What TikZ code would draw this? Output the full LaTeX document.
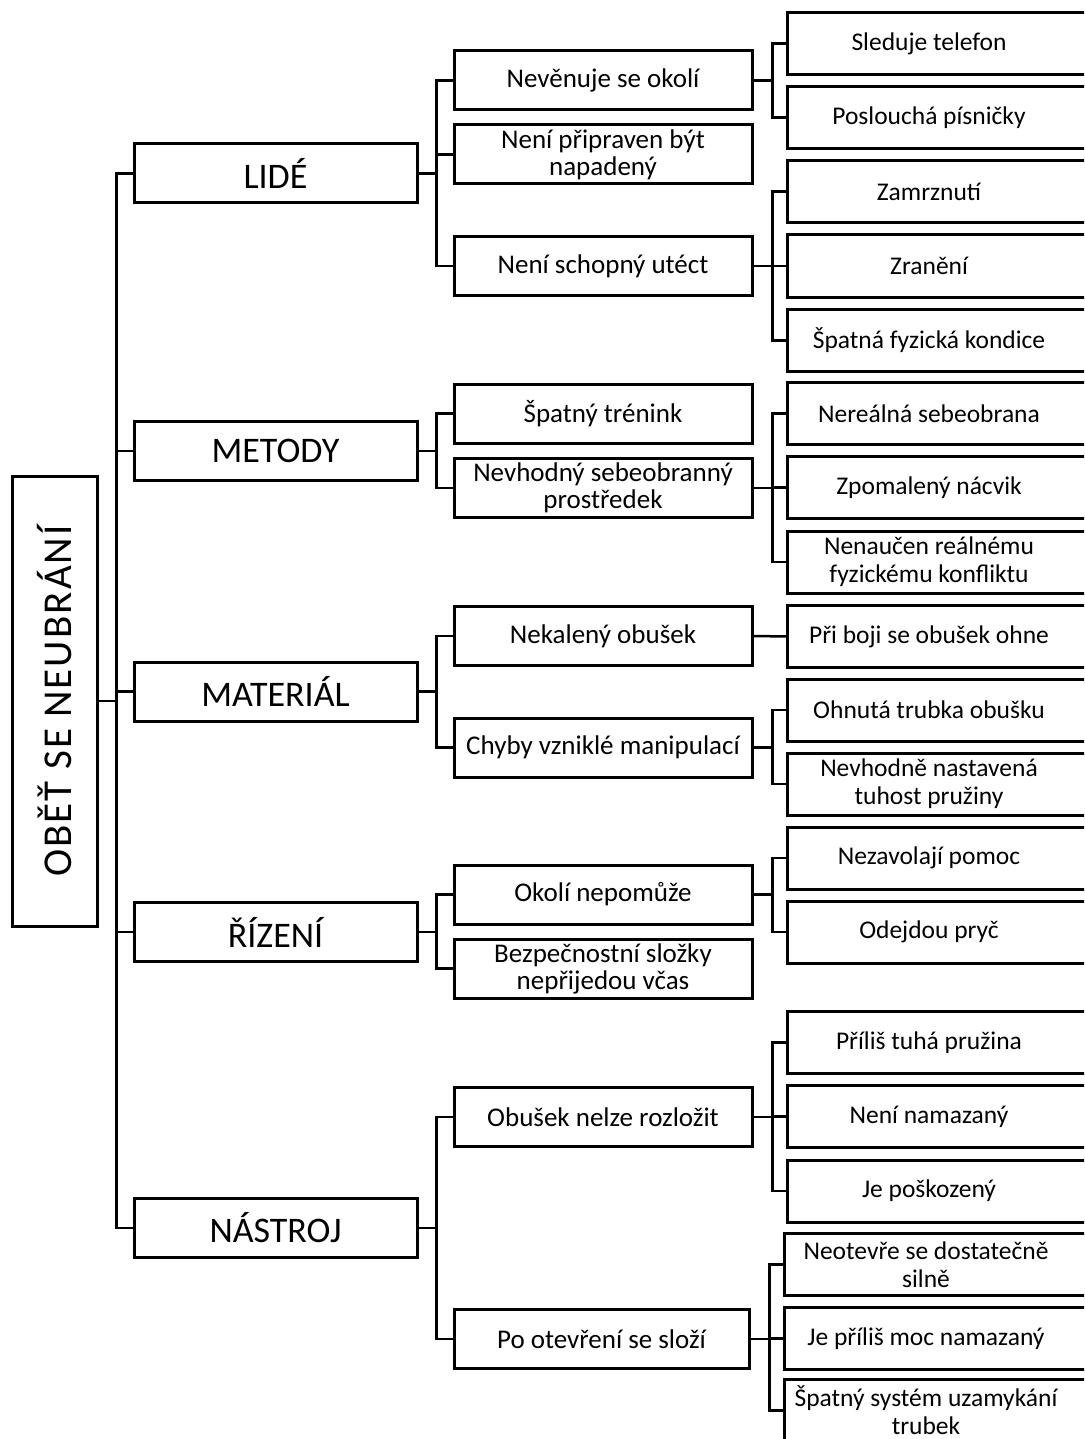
\documentclass[tikz,border=0pt]{standalone}
\usepackage{fontspec}
\setmainfont{Carlito}

\tikzset{
    box/.style={rectangle, draw=black, line width=3pt, inner sep=2pt, align=center},
    rootbox/.style={box, minimum width=85pt, minimum height=450pt, font=\fontsize{41}{44}\selectfont\addfontfeatures{LetterSpace=5}},
    catbox/.style={box, minimum width=283pt, minimum height=59pt, font=\fontsize{36}{40}\selectfont},
    causebox/.style={box, minimum width=298pt, minimum height=59pt, font=\fontsize{27}{27}\selectfont},
    subbox/.style={box, draw=none, minimum width=280pt, minimum height=59pt, font=\fontsize{25.5}{28}\selectfont},
    link/.style={line width=2.5pt},
}

\begin{document}
\begin{tikzpicture}[x=1pt,y=-1pt]
    \useasboundingbox (0,0) rectangle (1084,1439);
    \clip (0,0) rectangle (1084,1439);

    % root
    \node[rootbox] (root) at (54.5,701) {\rotatebox{90}{OBĚŤ SE NEUBRÁNÍ}};

    % categories
    \node[catbox] (lide) at (275.5,173.5) {LIDÉ};
    \node[catbox] (metody) at (275.5,451) {METODY};
    \node[catbox] (material) at (275.5,691.5) {MATERIÁL};
    \node[catbox] (rizeni) at (275.5,932) {ŘÍZENÍ};
    \node[catbox] (nastroj) at (275.5,1228) {NÁSTROJ};

    % causes
    \node[causebox] (okoli) at (603,80.5) {Nevěnuje se okolí};
    \node[causebox] (pripraven) at (603,154.5) {Není připraven být\\napadený};
    \node[causebox] (utect) at (603,266) {Není schopný utéct};
    \node[causebox] (trenink) at (603,413.5) {Špatný trénink};
    \node[causebox] (prostredek) at (603,488) {Nevhodný sebeobranný\\prostředek};
    \node[causebox] (nekaleny) at (603,636) {Nekalený obušek};
    \node[causebox] (chyby) at (603,747.5) {Chyby vzniklé manipulací};
    \node[causebox] (nepomuze) at (603,894.5) {Okolí nepomůže};
    \node[causebox] (slozky) at (603,968.5) {Bezpečnostní složky\\nepřijedou včas};
    \node[causebox] (rozlozit) at (603,1117) {Obušek nelze rozložit};
    \node[causebox, minimum width=295pt] (slozi) at (601.5,1339) {Po otevření se složí};

    % sub causes
    \node[subbox] (telefon) at (929,43.5) {Sleduje telefon};
    \node[subbox] (pisnicky) at (929,117.5) {Poslouchá písničky};
    \node[subbox] (zamrznuti) at (929,191.5) {Zamrznutí};
    \node[subbox] (zraneni) at (929,266) {Zranění};
    \node[subbox] (kondice) at (929,340.5) {Špatná fyzická kondice};
    \node[subbox] (nerealna) at (929,413.5) {Nereálná sebeobrana};
    \node[subbox] (nacvik) at (929,487.5) {Zpomalený nácvik};
    \node[subbox] (konflikt) at (929,562) {Nenaučen reálnému\\fyzickému konfliktu};
    \node[subbox] (ohne) at (929,636.5) {Při boji se obušek ohne};
    \node[subbox] (trubka) at (929,710) {Ohnutá trubka obušku};
    \node[subbox] (tuhost) at (929,784) {Nevhodně nastavená\\tuhost pružiny};
    \node[subbox] (pomoc) at (929,858) {Nezavolají pomoc};
    \node[subbox] (pryc) at (929,932) {Odejdou pryč};
    \node[subbox] (tuha) at (929,1042.5) {Příliš tuhá pružina};
    \node[subbox] (namazany) at (929,1116.5) {Není namazaný};
    \node[subbox] (poskozeny) at (929,1191) {Je poškozený};
    \node[subbox] (silne) at (926,1264.5) {Neotevře se dostatečně\\silně};
    \node[subbox] (moc) at (926,1338.5) {Je příliš moc namazaný};
    \node[subbox] (uzamykani) at (926,1410.5) {Špatný systém uzamykání\\trubek};

    % sub boxes run off the right edge
    \foreach \n in {telefon,pisnicky,zamrznuti,zraneni,kondice,nerealna,nacvik,konflikt,ohne,
                    trubka,tuhost,pomoc,pryc,tuha,namazany,poskozeny,silne,moc,uzamykani}
        \draw[line width=3pt] (\n.north west) rectangle ([xshift=40pt]\n.south east);

    % connectors
    \foreach \c in {lide,metody,material,rizeni,nastroj}
        \draw[link] (root.east) -- ++(18,0) |- (\c.west);

    \foreach \c in {okoli,pripraven,utect}
        \draw[link] (lide.east) -- ++(18,0) |- (\c.west);
    \foreach \c in {trenink,prostredek}
        \draw[link] (metody.east) -- ++(18,0) |- (\c.west);
    \foreach \c in {nekaleny,chyby}
        \draw[link] (material.east) -- ++(18,0) |- (\c.west);
    \foreach \c in {nepomuze,slozky}
        \draw[link] (rizeni.east) -- ++(18,0) |- (\c.west);
    \foreach \c in {rozlozit,slozi}
        \draw[link] (nastroj.east) -- ++(18,0) |- (\c.west);

    \foreach \c in {telefon,pisnicky}
        \draw[link] (okoli.east) -- ++(19,0) |- (\c.west);
    \foreach \c in {zamrznuti,zraneni,kondice}
        \draw[link] (utect.east) -- ++(19,0) |- (\c.west);
    \foreach \c in {nerealna,nacvik,konflikt}
        \draw[link] (prostredek.east) -- ++(19,0) |- (\c.west);
    \draw[link] (nekaleny.east) -- (ohne.west);
    \foreach \c in {trubka,tuhost}
        \draw[link] (chyby.east) -- ++(19,0) |- (\c.west);
    \foreach \c in {pomoc,pryc}
        \draw[link] (nepomuze.east) -- ++(19,0) |- (\c.west);
    \foreach \c in {tuha,namazany,poskozeny}
        \draw[link] (rozlozit.east) -- ++(19,0) |- (\c.west);
    \foreach \c in {silne,moc,uzamykani}
        \draw[link] (slozi.east) -- ++(19,0) |- (\c.west);
\end{tikzpicture}
\end{document}
